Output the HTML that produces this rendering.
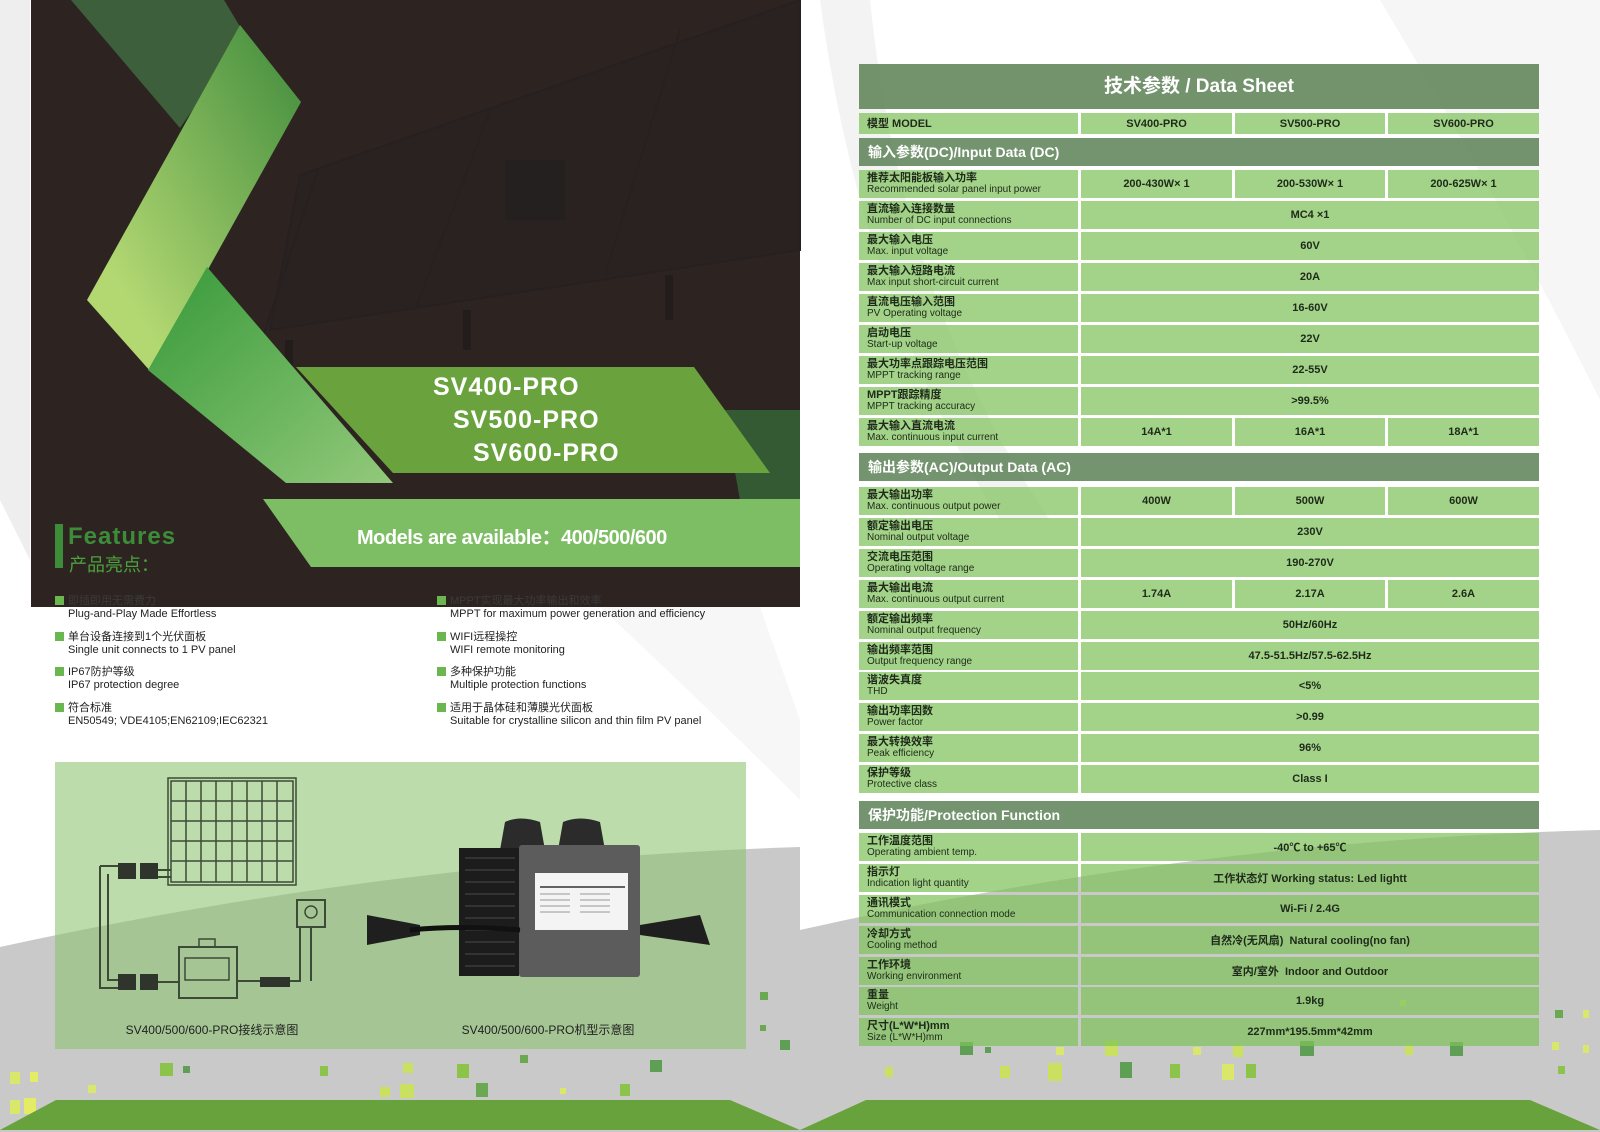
<!DOCTYPE html>
<html><head><meta charset="utf-8">
<style>
*{margin:0;padding:0;box-sizing:border-box}
body{width:1600px;height:1132px;position:relative;overflow:hidden;background:#fff;font-family:"Liberation Sans","Noto Sans CJK SC",sans-serif}
svg.bg{position:absolute;left:0;top:0}
.t{position:absolute;white-space:nowrap}
.r{position:absolute;left:859px;width:680px;height:28px;color:#1e2a1a}
.r>div{position:absolute;top:0;height:28px;background:rgba(128,194,92,0.72)}
.l{left:0;width:219px;padding:2px 0 0 8px;font-size:10px;line-height:11px}
.l b{display:block;font-size:11px;font-weight:bold;line-height:12px}
.v{display:flex;align-items:center;justify-content:center;font-size:11px;font-weight:bold}
.a{left:222px;width:151px}.b{left:376px;width:150px}.c{left:529px;width:151px}.m{left:222px;width:458px}
.h{position:absolute;left:859px;width:680px;height:28px;background:rgba(84,124,78,0.82);color:#fff;font-size:14px;font-weight:bold;padding-left:9px;line-height:28px}
.f{position:absolute;font-size:11px;line-height:13px;color:#222}
.f i{display:inline-block;width:9px;height:9px;background:#6ab74f;margin-right:4px;vertical-align:-1px}
</style></head><body>
<svg class="bg" width="1600" height="1132" viewBox="0 0 1600 1132">
<defs>
<linearGradient id="g1" x1="0" y1="1" x2="1" y2="0"><stop offset="0.2" stop-color="#b3d872"/><stop offset="1" stop-color="#3f8a3c"/></linearGradient>
<linearGradient id="g2" x1="0" y1="0" x2="1" y2="1"><stop offset="0" stop-color="#37993a"/><stop offset="1" stop-color="#92c97a"/></linearGradient>
</defs>
<path d="M0,947 Q400,860 800,847 L800,1132 L0,1132Z" fill="#c9c9c9"/>
<path d="M800,930 Q1200,840 1600,830 L1600,1132 L800,1132Z" fill="#c9c9c9"/>
<path d="M820,0 L870,0 Q900,300 1050,520 L1000,520 Q860,300 820,0Z" fill="#f3f3f3"/>
<path d="M1380,0 L1600,0 L1600,400 Q1500,200 1380,0Z" fill="#f6f6f6"/>
<path d="M0,0 L30,0 L30,560 L0,500Z" fill="#eeeeee"/>
<path d="M600,607 L760,607 L800,720 L800,800 Q700,700 600,607Z" fill="#f7f7f7"/>
<rect x="31" y="0" width="769" height="607" fill="#2d2422"/>
<g stroke="#262020" stroke-width="2" fill="none">
<path d="M300,175 L800,0 L800,250 L270,330Z" fill="#2a2220"/>
<line x1="318" y1="170" x2="262" y2="340"/><line x1="490" y1="110" x2="415" y2="310"/><line x1="680" y1="30" x2="605" y2="275"/>
</g>
<rect x="505" y="160" width="60" height="60" fill="#252020"/>
<rect x="285" y="340" width="8" height="30" fill="#221c1b"/><rect x="463" y="310" width="8" height="40" fill="#221c1b"/><rect x="665" y="275" width="8" height="45" fill="#221c1b"/>
<polygon points="71,0 224,0 245,35 180,128" fill="#3e5f3b"/>
<polygon points="240,25 301,102 151,372 87,300" fill="url(#g1)"/>
<polygon points="207,267 393,483 286,483 148,370" fill="url(#g2)"/>
<polygon points="724,410 800,410 800,500 740,500" fill="#335a33"/>
<polygon points="296,367 694,367 770,473 393,473" fill="#6aa33e"/>
<polygon points="263,499 800,499 800,567 311,567" fill="#7dbd64"/>
<rect x="55" y="524" width="8" height="44" fill="#3d8c3a"/>
<rect x="55" y="762" width="691" height="287" fill="rgba(140,196,110,0.58)"/>
<g stroke="#3d4a38" stroke-width="1.5" fill="none">
<rect x="168" y="778" width="128" height="107"/>
<rect x="171" y="781" width="122" height="101"/>
<path d="M186,781V882M201,781V882M216,781V882M232,781V882M247,781V882M262,781V882M277,781V882M171,801H293M171,821H293M171,841H293M171,861H293"/>
<path d="M100,866H118M100,866V988H118M108,874V980H118M158,870H171M158,877H171" stroke-width="2"/>
<rect x="179" y="947" width="58" height="51" stroke-width="2"/>
<rect x="185" y="958" width="44" height="22"/>
<path d="M199,947 v-8 h16 v8"/>
<path d="M158,982H179M237,981H300V927M311,927V981" stroke-width="2"/>
<rect x="297" y="900" width="28" height="27" stroke-width="2"/>
<circle cx="311" cy="912" r="6"/>
</g>
<g fill="#2f352c"><rect x="118" y="863" width="18" height="16"/><rect x="140" y="863" width="18" height="16"/><rect x="118" y="974" width="18" height="16"/><rect x="140" y="974" width="18" height="16"/><rect x="260" y="977" width="30" height="10"/></g>
<g>
<path d="M500,850 L505,822 Q520,815 540,822 L545,850Z M558,850 L563,822 Q580,815 600,822 L605,850Z" fill="#2b2b2b"/>
<path d="M420,925 L367,915 L367,945 L420,935Z M640,925 L700,915 L710,945 L640,935Z" fill="#1f1f1f"/>
<rect x="459" y="848" width="60" height="128" fill="#1c1c1c"/>
<rect x="519" y="845" width="121" height="132" rx="3" fill="#5c5c5c"/>
<g stroke="#333" stroke-width="2"><path d="M465,858H515M465,870H515M465,882H515M465,894H515M465,906H515M465,918H515M465,930H515M465,942H515M465,954H515M465,966H515"/></g>
<rect x="535" y="873" width="93" height="57" fill="#f4f4f4"/>
<path d="M540,887H625" stroke="#333" stroke-width="1.5"/>
<g stroke="#999" stroke-width="1"><path d="M540,894H570M580,894H610M540,900H570M580,900H610M540,906H570M580,906H610M540,912H570M580,912H610"/></g>
<path d="M410,930 Q460,925 520,930" stroke="#111" stroke-width="5" fill="none"/>
</g>
<g fill="#8cc34a">
<rect x="160" y="1063" width="13" height="13"/><rect x="183" y="1066" width="7" height="7" fill="#5f9e55"/><rect x="320" y="1066" width="8" height="10"/><rect x="403" y="1063" width="10" height="10" fill="#c9e060"/><rect x="457" y="1064" width="12" height="14"/><rect x="520" y="1055" width="8" height="8" fill="#6aa852"/><rect x="650" y="1060" width="12" height="12" fill="#5f9e55"/><rect x="10" y="1072" width="10" height="12" fill="#d9e86a"/><rect x="30" y="1072" width="8" height="10" fill="#e4ec66"/><rect x="88" y="1085" width="8" height="8" fill="#d9e86a"/><rect x="380" y="1087" width="10" height="10" fill="#c9e060"/><rect x="400" y="1084" width="14" height="14" fill="#c9e060"/><rect x="476" y="1083" width="12" height="14" fill="#6aa852"/><rect x="560" y="1088" width="6" height="6" fill="#d9e86a"/><rect x="620" y="1084" width="10" height="12"/><rect x="760" y="992" width="8" height="8" fill="#6aa852"/><rect x="760" y="1025" width="6" height="6" fill="#6aa852"/><rect x="10" y="1100" width="10" height="14" fill="#d9e86a"/><rect x="24" y="1098" width="12" height="16" fill="#e4ec66"/><rect x="780" y="1040" width="10" height="10" fill="#5f9e55"/>
<rect x="960" y="1042" width="13" height="13" fill="#5f9e55"/><rect x="985" y="1047" width="6" height="6" fill="#5f9e55"/><rect x="1056" y="1047" width="8" height="8" fill="#d9e86a"/><rect x="1105" y="1040" width="13" height="16" fill="#c9e060"/><rect x="1193" y="1047" width="8" height="8" fill="#d9e86a"/><rect x="1233" y="1045" width="10" height="12" fill="#c9e060"/><rect x="1300" y="1041" width="14" height="15" fill="#5f9e55"/><rect x="1405" y="1045" width="8" height="10" fill="#c9e060"/><rect x="1450" y="1042" width="13" height="14" fill="#5f9e55"/><rect x="1552" y="1042" width="7" height="8" fill="#d9e86a"/><rect x="885" y="1067" width="8" height="10" fill="#c9e060"/><rect x="1000" y="1066" width="10" height="12" fill="#c9e060"/><rect x="1048" y="1063" width="14" height="18" fill="#c9e060"/><rect x="1120" y="1062" width="12" height="16" fill="#5f9e55"/><rect x="1170" y="1064" width="10" height="14"/><rect x="1222" y="1064" width="12" height="16" fill="#d9e86a"/><rect x="1246" y="1064" width="10" height="14"/><rect x="1558" y="1066" width="7" height="8"/><rect x="1555" y="1010" width="8" height="8" fill="#6aa852"/><rect x="1583" y="1010" width="6" height="8" fill="#d9e86a"/><rect x="1583" y="1045" width="6" height="8" fill="#d9e86a"/><rect x="1400" y="1000" width="6" height="6" fill="#d9e86a"/>
</g>
<polygon points="56,1100 730,1100 800,1130 0,1130" fill="#68a23c"/>
<polygon points="866,1100 1530,1100 1600,1130 800,1130" fill="#68a23c"/>
</svg>

<div class="t" style="left:433px;top:373px;color:#fff;font-size:25px;font-weight:bold;letter-spacing:1px">SV400-PRO</div>
<div class="t" style="left:453px;top:406px;color:#fff;font-size:25px;font-weight:bold;letter-spacing:1px">SV500-PRO</div>
<div class="t" style="left:473px;top:439px;color:#fff;font-size:25px;font-weight:bold;letter-spacing:1px">SV600-PRO</div>
<div class="t" style="left:357px;top:521px;color:#fff;font-size:20px;font-weight:bold;letter-spacing:-0.5px">Models are available：400/500/600</div>
<div class="t" style="left:68px;top:523px;color:#3d8c3a;font-size:24px;font-weight:bold;letter-spacing:1px">Features</div>
<div class="t" style="left:69px;top:551px;color:#4aa23c;font-size:18px">产品亮点：</div>

<div class="f" style="left:55px;top:595px"><i></i><span style="color:#3a3a3a">即插即用无需费力</span><br><span style="margin-left:13px">Plug-and-Play Made Effortless</span></div>
<div class="f" style="left:55px;top:631px"><i></i>单台设备连接到1个光伏面板<br><span style="margin-left:13px">Single unit connects to 1 PV panel</span></div>
<div class="f" style="left:55px;top:666px"><i></i>IP67防护等级<br><span style="margin-left:13px">IP67 protection degree</span></div>
<div class="f" style="left:55px;top:702px"><i></i>符合标准<br><span style="margin-left:13px">EN50549; VDE4105;EN62109;IEC62321</span></div>
<div class="f" style="left:437px;top:595px"><i></i><span style="color:#3a3a3a">MPPT实现最大功率输出和效率</span><br><span style="margin-left:13px">MPPT for maximum power generation and efficiency</span></div>
<div class="f" style="left:437px;top:631px"><i></i>WIFI远程操控<br><span style="margin-left:13px">WIFI remote monitoring</span></div>
<div class="f" style="left:437px;top:666px"><i></i>多种保护功能<br><span style="margin-left:13px">Multiple protection functions</span></div>
<div class="f" style="left:437px;top:702px"><i></i>适用于晶体硅和薄膜光伏面板<br><span style="margin-left:13px">Suitable for crystalline silicon and thin film PV panel</span></div>

<div class="t" style="left:212px;top:1021px;transform:translateX(-50%);font-size:12px;color:#222">SV400/500/600-PRO接线示意图</div>
<div class="t" style="left:548px;top:1021px;transform:translateX(-50%);font-size:12px;color:#222">SV400/500/600-PRO机型示意图</div>

<div class="h" style="top:64px;height:45px;line-height:45px;padding:0;text-align:center;font-size:19px;background:rgba(90,128,84,0.85)">技术参数 / Data Sheet</div>
<div class="r" style="top:113px;height:21px"><div class="l" style="height:21px;font-size:11px;font-weight:bold;line-height:19px">模型 MODEL</div><div class="v a" style="height:21px">SV400-PRO</div><div class="v b" style="height:21px">SV500-PRO</div><div class="v c" style="height:21px">SV600-PRO</div></div>
<div class="h" style="top:138px">输入参数(DC)/Input Data (DC)</div>

<div class="r" style="top:170px"><div class="l"><b>推荐太阳能板输入功率</b>Recommended solar panel input power</div><div class="v a">200-430W× 1</div><div class="v b">200-530W× 1</div><div class="v c">200-625W× 1</div></div>
<div class="r" style="top:201px"><div class="l"><b>直流输入连接数量</b>Number of DC input connections</div><div class="v m">MC4 ×1</div></div>
<div class="r" style="top:232px"><div class="l"><b>最大输入电压</b>Max. input voltage</div><div class="v m">60V</div></div>
<div class="r" style="top:263px"><div class="l"><b>最大输入短路电流</b>Max input short-circuit current</div><div class="v m">20A</div></div>
<div class="r" style="top:294px"><div class="l"><b>直流电压输入范围</b>PV Operating voltage</div><div class="v m">16-60V</div></div>
<div class="r" style="top:325px"><div class="l"><b>启动电压</b>Start-up voltage</div><div class="v m">22V</div></div>
<div class="r" style="top:356px"><div class="l"><b>最大功率点跟踪电压范围</b>MPPT tracking range</div><div class="v m">22-55V</div></div>
<div class="r" style="top:387px"><div class="l"><b>MPPT跟踪精度</b>MPPT tracking accuracy</div><div class="v m">&gt;99.5%</div></div>
<div class="r" style="top:418px"><div class="l"><b>最大输入直流电流</b>Max. continuous input current</div><div class="v a">14A*1</div><div class="v b">16A*1</div><div class="v c">18A*1</div></div>

<div class="h" style="top:453px">输出参数(AC)/Output Data (AC)</div>
<div class="r" style="top:487px"><div class="l"><b>最大输出功率</b>Max. continuous output power</div><div class="v a">400W</div><div class="v b">500W</div><div class="v c">600W</div></div>
<div class="r" style="top:518px"><div class="l"><b>额定输出电压</b>Nominal output voltage</div><div class="v m">230V</div></div>
<div class="r" style="top:549px"><div class="l"><b>交流电压范围</b>Operating voltage range</div><div class="v m">190-270V</div></div>
<div class="r" style="top:580px"><div class="l"><b>最大输出电流</b>Max. continuous output current</div><div class="v a">1.74A</div><div class="v b">2.17A</div><div class="v c">2.6A</div></div>
<div class="r" style="top:611px"><div class="l"><b>额定输出频率</b>Nominal output frequency</div><div class="v m">50Hz/60Hz</div></div>
<div class="r" style="top:642px"><div class="l"><b>输出频率范围</b>Output frequency range</div><div class="v m">47.5-51.5Hz/57.5-62.5Hz</div></div>
<div class="r" style="top:672px"><div class="l"><b>谐波失真度</b>THD</div><div class="v m">&lt;5%</div></div>
<div class="r" style="top:703px"><div class="l"><b>输出功率因数</b>Power factor</div><div class="v m">&gt;0.99</div></div>
<div class="r" style="top:734px"><div class="l"><b>最大转换效率</b>Peak efficiency</div><div class="v m">96%</div></div>
<div class="r" style="top:765px"><div class="l"><b>保护等级</b>Protective class</div><div class="v m">Class I</div></div>

<div class="h" style="top:801px">保护功能/Protection Function</div>
<div class="r" style="top:833px"><div class="l"><b>工作温度范围</b>Operating ambient temp.</div><div class="v m">-40℃ to +65℃</div></div>
<div class="r" style="top:864px"><div class="l"><b>指示灯</b>Indication light quantity</div><div class="v m">工作状态灯 Working status: Led lightt</div></div>
<div class="r" style="top:895px"><div class="l"><b>通讯模式</b>Communication connection mode</div><div class="v m">Wi-Fi / 2.4G</div></div>
<div class="r" style="top:926px"><div class="l"><b>冷却方式</b>Cooling method</div><div class="v m">自然冷(无风扇)&nbsp; Natural cooling(no fan)</div></div>
<div class="r" style="top:957px"><div class="l"><b>工作环境</b>Working environment</div><div class="v m">室内/室外&nbsp; Indoor and Outdoor</div></div>
<div class="r" style="top:987px"><div class="l"><b>重量</b>Weight</div><div class="v m">1.9kg</div></div>
<div class="r" style="top:1018px"><div class="l"><b>尺寸(L*W*H)mm</b>Size (L*W*H)mm</div><div class="v m">227mm*195.5mm*42mm</div></div>
</body></html>
